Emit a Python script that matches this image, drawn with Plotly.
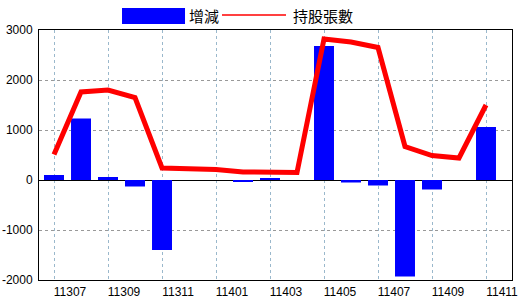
import plotly.graph_objects as go

months = ['11307', '11308', '11309', '11310', '11311', '11312', '11401', '11402', '11403',
          '11404', '11405', '11406', '11407', '11408', '11409', '11410', '11411']
change = [100, 1230, 60, -130, -1400, 0, 0, -30, 25, 0, 2680, -50, -110, -1930, -190, 0, 1060]
holdings = [510, 1760, 1800, 1650, 240, 225, 210, 160, 155, 150, 2820, 2760, 2650, 670, 490, 440, 1500]
tick_labels = months[::2]
y_ticks = [-2000, -1000, 0, 1000, 2000, 3000]
y_tick_text = ['-2000', '-1000', '0', '1000', '2000', '3000']

fig = go.Figure()
fig.add_trace(go.Bar(x=months, y=change, name='增減', marker=dict(color='#0000FF', line=dict(width=0)),
                     width=0.74, showlegend=False))
fig.add_trace(go.Scatter(x=months, y=holdings, name='持股張數', mode='lines',
                         line=dict(color='#FF0000', width=5), showlegend=False))

# manual legend (paper coordinates)
fig.add_shape(type='rect', xref='paper', yref='paper', x0=0.1755, x1=0.3087, y0=1.024, y1=1.088,
              fillcolor='#0000FF', line=dict(width=0))
fig.add_shape(type='line', xref='paper', yref='paper', x0=0.3869, x1=0.5222, y0=1.06, y1=1.06,
              line=dict(color='#FF0000', width=1.5))
fig.add_annotation(text='增減', xref='paper', yref='paper', x=0.313, y=1.058, xanchor='left',
                   yanchor='middle', showarrow=False,
                   font=dict(family='Noto Sans CJK TC', size=15, color='black'))
fig.add_annotation(text='持股張數', xref='paper', yref='paper', x=0.533, y=1.058, xanchor='left',
                   yanchor='middle', showarrow=False,
                   font=dict(family='Noto Sans CJK TC', size=15, color='black'))

fig.update_layout(
    width=520, height=300,
    margin=dict(l=39, r=8, t=30, b=20, autoexpand=False),
    paper_bgcolor='white', plot_bgcolor='white',
    bargap=0.26,
    font=dict(family='Liberation Sans', size=12, color='black'),
)
fig.update_xaxes(
    type='category', categoryorder='array', categoryarray=months,
    range=[-0.556, 16.963], automargin=False,
    tickmode='array', tickvals=tick_labels, ticktext=tick_labels,
    ticks='', ticklabelshift=16, ticklabelstandoff=1,
    showgrid=True, gridcolor='#9ab8cc', griddash='dot', gridwidth=1,
    showline=True, linecolor='black', linewidth=1, mirror=True,
    tickfont=dict(family='Liberation Sans', size=12, color='black'),
)
fig.update_yaxes(
    range=[-2000, 3000], automargin=False,
    tickmode='array', tickvals=y_ticks, ticktext=y_tick_text,
    ticks='', ticklabelstandoff=3,
    showgrid=True, gridcolor='#999999', griddash='dot', gridwidth=1,
    zeroline=True, zerolinecolor='black', zerolinewidth=1,
    showline=True, linecolor='black', linewidth=1, mirror=True,
    tickfont=dict(family='Liberation Sans', size=12, color='black'),
)

fig.write_html('out.html')
